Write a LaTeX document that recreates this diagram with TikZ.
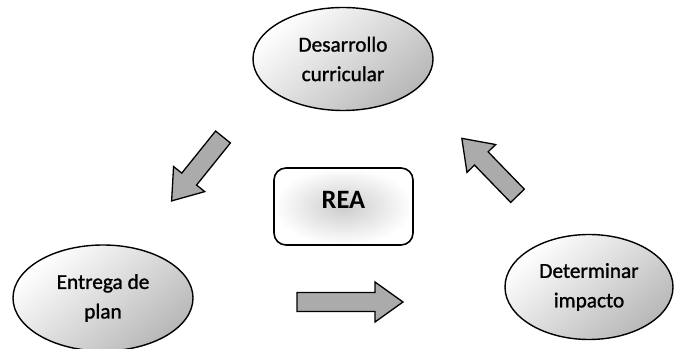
\documentclass[tikz,border=0pt]{standalone}
\usepackage{fontspec}
\setmainfont{Carlito}
\newfontfamily\lblfont{Carlito}[BoldFont={Carlito},BoldFeatures={FakeBold=1.2}]
\usetikzlibrary{shapes.geometric}
\newcommand{\blockarr}[4]{%
  \draw[blockarrow,shift={(#1,#2)},rotate=#3]
    (0,-9.5) -- (#4-28,-9.5) -- (#4-28,-20) -- (#4,0) -- (#4-28,20) -- (#4-28,9.5) -- (0,9.5) -- cycle;}
\tikzset{
  bubble/.style={ellipse, draw=black, line width=1.4pt, inner sep=0pt,
    top color=white, bottom color=black!28, shading angle=40,
    align=center, font=\lblfont\bfseries\fontsize{21.3}{29.5}\selectfont},
  centerbox/.style={rectangle, rounded corners=12pt, draw=black, line width=1.6pt,
    inner color=black!20, outer color=white,
    minimum width=139pt, minimum height=77pt, font=\fontsize{26.5}{30}\selectfont\bfseries},
  blockarrow/.style={draw=black, line width=1.3pt, fill=black!33, line join=miter}
}
\begin{document}
\begin{tikzpicture}[x=1pt,y=1pt]
\useasboundingbox (0,0) rectangle (674,348);
\node[bubble, minimum width=180pt, minimum height=103pt] (dc) at (343,289) {Desarrollo\\curricular};
\node[bubble, minimum width=180pt, minimum height=106pt] (ep) at (103,50) {Entrega de\\plan};
\node[bubble, minimum width=168pt, minimum height=105pt] (di) at (589,61) {Determinar\\impacto};
\node[centerbox] (rea) at (343.5,141.5) {\raisebox{13pt}{REA}};
\blockarr{223}{211}{231.2}{82}
\blockarr{297}{46}{0}{106}
\blockarr{517.5}{152.2}{134.1}{80}
\end{tikzpicture}
\end{document}
